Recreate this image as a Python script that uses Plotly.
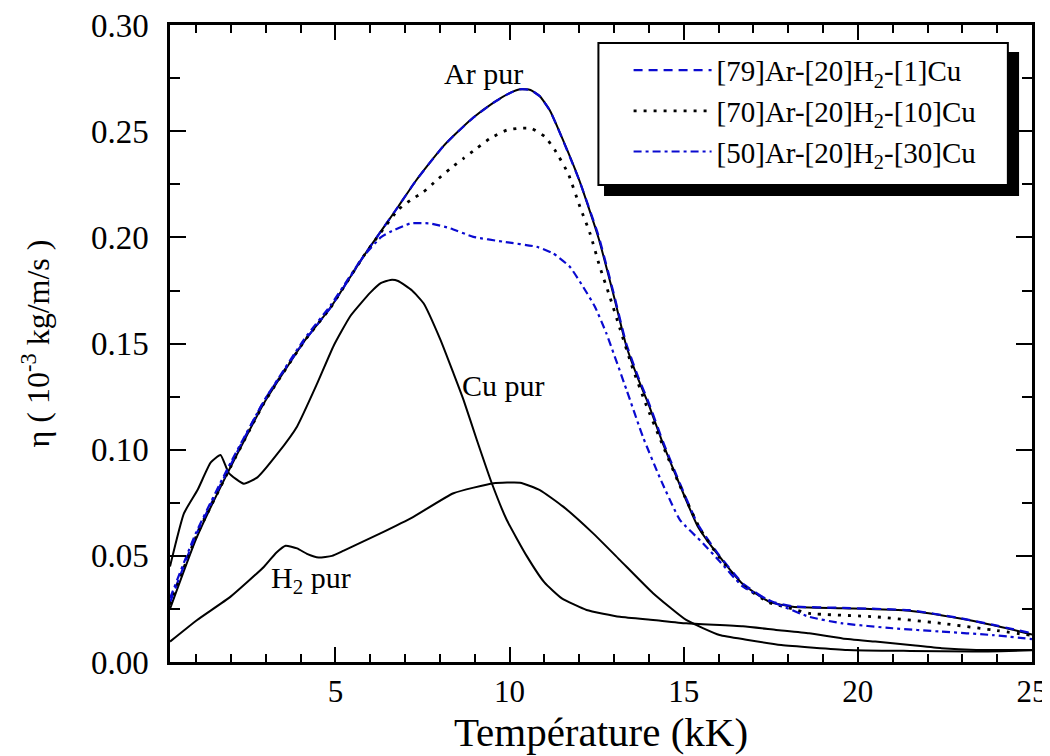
import plotly.graph_objects as go

# ---------------- data ----------------
T_ar = [0.25, 1.0, 1.9, 2.95, 4.1, 4.86, 5.8, 6.8, 7.3, 7.7, 8.1, 8.4, 8.96, 9.54, 10.0,
        10.3, 10.6, 10.87, 11.15, 11.4, 12.0, 12.55, 13.0, 13.35, 13.7, 14.0, 14.4, 14.83,
        15.4, 16.03, 16.7, 17.46, 18.13, 19.56, 21.48, 22.9, 23.86, 25.0]
eta_ar = [0.025, 0.058, 0.089, 0.122, 0.151, 0.167, 0.191, 0.2145, 0.2265, 0.235, 0.243,
          0.248, 0.2565, 0.2635, 0.268, 0.2698, 0.2695, 0.2665, 0.260, 0.251, 0.227, 0.200,
          0.172, 0.149, 0.133, 0.121, 0.103, 0.0857, 0.064, 0.0496, 0.0366, 0.0284, 0.026,
          0.0253, 0.0242, 0.0206, 0.0174, 0.013]

T_mix1 = [0.25, 1.0, 1.9, 2.95, 4.1, 4.86, 5.8, 6.8, 7.3, 7.7, 8.1, 8.4, 8.96, 9.54, 10.0,
          10.3, 10.6, 10.87, 11.15, 11.4, 12.0, 12.55, 13.0, 13.35, 13.7, 14.0, 14.4, 14.83,
          15.4, 16.03, 16.7, 17.46, 18.13, 19.56, 21.48, 22.9, 23.86, 25.0]
eta_mix1 = [0.028, 0.060, 0.090, 0.123, 0.151, 0.167, 0.191, 0.2145, 0.2265, 0.235, 0.243,
            0.248, 0.2565, 0.2635, 0.268, 0.2698, 0.2695, 0.2665, 0.260, 0.251, 0.227, 0.201,
            0.173, 0.150, 0.134, 0.122, 0.104, 0.0865, 0.0650, 0.0500, 0.0370, 0.0288,
            0.0262, 0.0255, 0.0244, 0.0208, 0.0176, 0.0135]

T_mix10 = [0.25, 1.0, 1.9, 2.95, 4.1, 4.86, 5.8, 6.8, 7.15, 7.53, 7.91, 8.3, 8.68, 9.06,
           9.44, 9.92, 10.3, 10.63, 11.02, 11.3, 11.68, 12.02, 12.31, 12.59, 12.88,
           13.17, 13.5, 13.9, 14.4, 14.89, 15.46, 16.03, 16.7, 17.46, 18.13, 18.6, 20.5,
           22.4, 23.86, 25.0]
eta_mix10 = [0.027, 0.059, 0.089, 0.122, 0.151, 0.167, 0.191, 0.213, 0.2175, 0.2215,
             0.227, 0.2325, 0.2373, 0.242, 0.2467, 0.2506, 0.2515, 0.2514, 0.2474,
             0.2412, 0.2302, 0.2145, 0.2019, 0.1862, 0.172, 0.157, 0.140, 0.122, 0.1020,
             0.0830, 0.0630, 0.0490, 0.0360, 0.0280, 0.0250, 0.0229, 0.0213, 0.0182,
             0.0151, 0.0125]

T_mix30 = [0.25, 1.0, 1.9, 2.95, 4.1, 4.86, 5.8, 6.3, 6.58, 7.15, 7.72, 8.3, 8.96, 9.82,
           10.78, 11.25, 11.73, 12.11, 12.45, 12.78, 13.36, 13.83, 14.31, 14.89, 15.55,
           16.03, 16.7, 17.65, 18.6, 19.56, 21.0, 22.4, 23.86, 25.0]
eta_mix30 = [0.030, 0.061, 0.091, 0.123, 0.152, 0.168, 0.191, 0.200, 0.2027, 0.2066,
             0.2066, 0.2043, 0.2003, 0.198, 0.1956, 0.1925, 0.1862, 0.1768, 0.1674,
             0.1548, 0.1281, 0.1060, 0.0870, 0.0670, 0.0560, 0.0475, 0.0355, 0.0276,
             0.0213, 0.0182, 0.0159, 0.0143, 0.0127, 0.0108]

T_cu = [0.25, 0.65, 1.04, 1.42, 1.70, 1.94, 2.37, 2.76, 3.33, 3.90, 4.47, 4.95, 5.43,
        6.0, 6.3, 6.58, 6.8, 7.2, 7.53, 8.01, 8.39, 8.68, 9.06, 9.49, 9.92, 10.49, 11.0,
        11.5, 12.21, 13.17, 14.12, 15.07, 16.7, 17.65, 18.6, 19.56, 20.5, 21.5, 22.4,
        23.4, 25.0]
eta_cu = [0.045, 0.070, 0.081, 0.094, 0.0975, 0.089, 0.084, 0.087, 0.098, 0.111, 0.131,
          0.149, 0.163, 0.174, 0.1785, 0.180, 0.1795, 0.175, 0.169, 0.152, 0.136, 0.1234,
          0.1046, 0.0842, 0.0669, 0.0500, 0.0375, 0.0300, 0.0245, 0.0213, 0.0198, 0.0182,
          0.0168, 0.0151, 0.0135, 0.0111, 0.0096, 0.0080, 0.0065, 0.0057, 0.0057]

T_h2 = [0.25, 1.03, 1.99, 2.95, 3.3, 3.57, 3.9, 4.2, 4.52, 4.9, 5.24, 6.29, 7.24, 8.39,
        9.54, 10.3, 10.87, 11.54, 12.4, 13.17, 14.12, 15.07, 16.03, 16.8, 17.8, 19.7,
        21.5, 23.3, 25.0]
eta_h2 = [0.0096, 0.0198, 0.0308, 0.0449, 0.0515, 0.0548, 0.0535, 0.0508, 0.0492, 0.0500,
          0.0525, 0.0606, 0.0684, 0.0795, 0.0842, 0.0845, 0.081, 0.0732, 0.0606, 0.048,
          0.0324, 0.0198, 0.0127, 0.0105, 0.0080, 0.0057, 0.0052, 0.0049, 0.0055]

legend_names = ["[79]Ar-[20]H<sub>2</sub>-[1]Cu",
                "[70]Ar-[20]H<sub>2</sub>-[10]Cu",
                "[50]Ar-[20]H<sub>2</sub>-[30]Cu"]
curve_labels = ["Ar pur", "Cu pur", "H<sub>2</sub> pur"]
label_pos_T = [9.25, 9.82, 4.29]
label_pos_eta = [0.2774, 0.1305, 0.0386]

FONT = "Liberation Serif"
BLUE = "#0a0ad0"
SMOOTH = 0.45

fig = go.Figure()

# pure-gas curves (not in legend)
for T, e in [(T_ar, eta_ar), (T_cu, eta_cu), (T_h2, eta_h2)]:
    fig.add_trace(go.Scatter(x=T, y=e, mode="lines", showlegend=False,
                             line=dict(color="black", width=2, shape="spline", smoothing=SMOOTH)))

fig.add_trace(go.Scatter(x=T_mix1, y=eta_mix1, mode="lines", name=legend_names[0],
                         legendgroup="a",
                         line=dict(color=BLUE, width=2.2, dash="9px,6px", shape="spline", smoothing=SMOOTH)))
fig.add_trace(go.Scatter(x=T_mix10, y=eta_mix10, mode="lines", name=legend_names[1],
                         legendgroup="b",
                         line=dict(color="black", width=2.8, dash="3px,7px", shape="spline", smoothing=SMOOTH)))
fig.add_trace(go.Scatter(x=T_mix30, y=eta_mix30, mode="lines", name=legend_names[2],
                         legendgroup="c",
                         line=dict(color=BLUE, width=2.2, dash="8px,4px,3px,4px", shape="spline", smoothing=SMOOTH)))

for txt, tx, ty in zip(curve_labels, label_pos_T, label_pos_eta):
    fig.add_annotation(x=tx, y=ty, text=txt, showarrow=False,
                       font=dict(family=FONT, size=30, color="black"))

# legend box with drop shadow
fig.add_shape(type="rect", xref="paper", yref="paper", x0=0.5035, x1=0.985, y0=0.7316, y1=0.9576,
              fillcolor="black", line=dict(width=0), layer="above")
fig.add_shape(type="rect", xref="paper", yref="paper", x0=0.497, x1=0.972, y0=0.749, y1=0.9717,
              fillcolor="white", line=dict(color="black", width=2), layer="above")

axis_common = dict(showline=True, linecolor="black", linewidth=2.5, mirror="ticks",
                   ticks="inside", tickcolor="black", showgrid=False, zeroline=False,
                   automargin=False, ticklabeloverflow="allow")

fig.update_xaxes(range=[0.25, 25], tick0=0, dtick=5, ticklen=15, tickwidth=2,
                 ticklabelstandoff=0,
                 tickfont=dict(family=FONT, size=31, color="black"),
                 minor=dict(tick0=0, dtick=1, ticks="inside", ticklen=8, tickwidth=1.5,
                            tickcolor="black", showgrid=False),
                 title=dict(text="Température (kK)", font=dict(family=FONT, size=41, color="black"),
                            standoff=0),
                 **axis_common)
fig.update_yaxes(range=[0, 0.3001], tick0=0, dtick=0.05, tickformat=".2f", ticklen=16, tickwidth=2,
                 ticklabelstandoff=12,
                 tickfont=dict(family=FONT, size=33, color="black"),
                 minor=dict(tick0=0, dtick=0.025, ticks="inside", ticklen=10, tickwidth=1.5,
                            tickcolor="black", showgrid=False),
                 title=dict(text="η ( 10<sup>-3</sup> kg/m/s )",
                            font=dict(family=FONT, size=32, color="black"), standoff=32),
                 **axis_common)

fig.update_layout(
    width=1050, height=756,
    margin=dict(l=162, r=26, t=17, b=102),
    paper_bgcolor="white", plot_bgcolor="white",
    font=dict(family=FONT, color="black"),
    showlegend=True,
    legend=dict(x=0.532, y=0.969, xanchor="left", yanchor="top",
                bgcolor="rgba(0,0,0,0)", borderwidth=0,
                font=dict(family=FONT, size=29, color="black"),
                itemwidth=78, tracegroupgap=0),
)

fig.write_html("out.html")
